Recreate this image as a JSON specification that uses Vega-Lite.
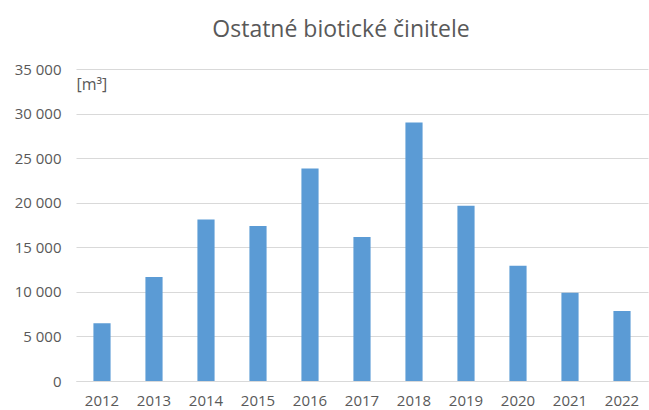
{
  "$schema": "https://vega.github.io/schema/vega-lite/v6.json",
  "width": 572,
  "height": 312,
  "autosize": "none",
  "padding": {"left": 76, "top": 69, "right": 1, "bottom": 29},
  "background": "white",
  "config": {
    "locale": {"number": {"decimal": ",", "thousands": " ", "grouping": [3], "currency": ["", " €"]}},
    "view": {"stroke": null},
    "font": "Open Sans"
  },
  "title": {
    "text": "Ostatné biotické činitele",
    "fontSize": 23,
    "fontWeight": "normal",
    "color": "#595959",
    "font": "Open Sans",
    "anchor": "middle",
    "dx": -21,
    "baseline": "alphabetic",
    "offset": 2
  },
  "data": {
    "values": [
      {"year": "2012", "value": 6470},
      {"year": "2013", "value": 11660},
      {"year": "2014", "value": 18130},
      {"year": "2015", "value": 17380},
      {"year": "2016", "value": 23840},
      {"year": "2017", "value": 16140},
      {"year": "2018", "value": 29000},
      {"year": "2019", "value": 19650},
      {"year": "2020", "value": 12930},
      {"year": "2021", "value": 9900},
      {"year": "2022", "value": 7850}
    ]
  },
  "mark": {"type": "bar", "color": "#5B9BD5"},
  "encoding": {
    "x": {
      "field": "year",
      "type": "ordinal",
      "scale": {"paddingInner": 0.67, "paddingOuter": 0.335},
      "axis": {
        "title": null,
        "labelAngle": 0,
        "labelFontSize": 15,
        "labelColor": "#595959",
        "labelPadding": 12,
        "ticks": false,
        "domain": true,
        "domainColor": "#d9d9d9"
      }
    },
    "y": {
      "field": "value",
      "type": "quantitative",
      "scale": {"domain": [0, 35000]},
      "axis": {
        "values": [0, 5000, 10000, 15000, 20000, 25000, 30000, 35000],
        "format": ",d",
        "title": "[m³]",
        "titleAngle": 0,
        "titleX": 0,
        "titleY": 20,
        "titleAlign": "left",
        "titleBaseline": "alphabetic",
        "titleFontSize": 16,
        "titleFontWeight": "normal",
        "titleColor": "#595959",
        "labelFontSize": 15,
        "labelColor": "#595959",
        "labelPadding": 15,
        "ticks": false,
        "domain": false,
        "grid": true,
        "gridColor": "#d9d9d9"
      }
    }
  }
}
